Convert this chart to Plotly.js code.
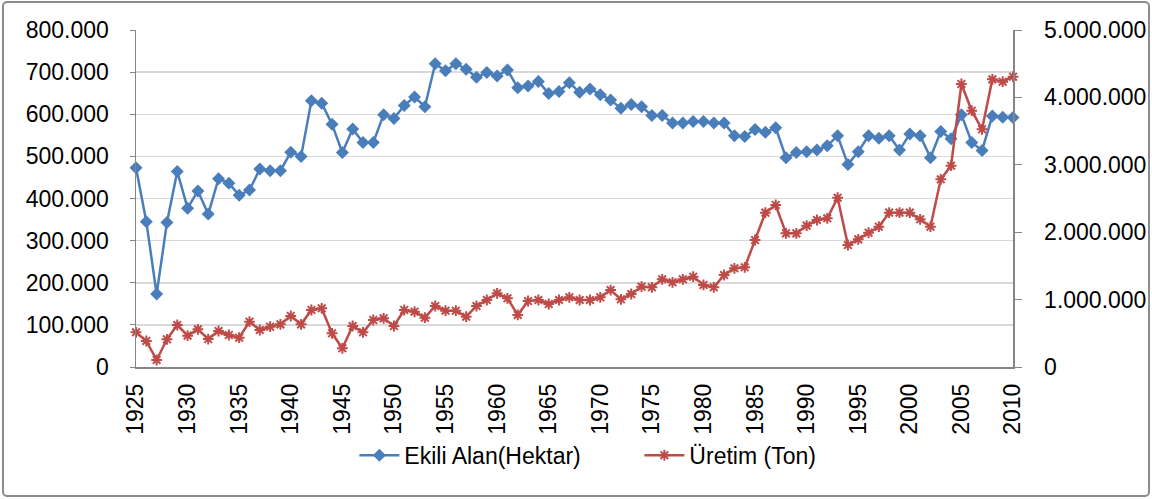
<!DOCTYPE html>
<html>
<head>
<meta charset="utf-8">
<script src="https://cdn.plot.ly/plotly-3.0.1.min.js"></script>
<style>
html,body{margin:0;padding:0;background:#fff;}
#wrap{position:relative;width:1152px;height:499px;}
#chart{position:absolute;left:0;top:0;width:1152px;height:499px;}
#frame{position:absolute;left:2px;top:1px;width:1144px;height:492px;border:2px solid #8c8c8c;border-radius:5px;pointer-events:none;}
</style>
</head>
<body>
<div id="wrap"><div id="chart"></div><div id="frame"></div></div>
<script>
const years = [];
for (let y = 1925; y <= 2010; y++) years.push(y);

const ekiliAlan = [
 473000, 345000, 173000, 343000, 464000, 377000, 418000, 363000, 447000, 436000,
 408000, 420000, 470000, 466000, 466000, 510000, 500000, 632000, 626000, 576000,
 509000, 565000, 533000, 533000, 599000, 590000, 621000, 641000, 618000, 720000,
 703000, 720000, 707000, 688000, 699000, 691000, 705000, 663000, 667000, 678000,
 649000, 654000, 675000, 652000, 660000, 646000, 634000, 614000, 623000, 618000,
 597000, 597000, 579000, 579000, 583000, 583000, 579000, 579000, 549000, 547000,
 564000, 557000, 568000, 497000, 509000, 511000, 515000, 525000, 549000, 481000,
 511000, 549000, 543000, 549000, 515000, 553000, 549000, 497000, 559000, 542000,
 599000, 533000, 514000, 596000, 593000, 592000
];

const uretim = [
 515000, 386000, 104000, 411000, 623000, 465000, 559000, 415000, 534000, 475000,
 435000, 672000, 549000, 598000, 633000, 757000, 633000, 846000, 871000, 500000,
 277000, 608000, 515000, 697000, 722000, 608000, 846000, 820000, 732000, 905000,
 835000, 835000, 746000, 905000, 994000, 1093000, 1019000, 772000, 979000, 994000,
 935000, 994000, 1034000, 994000, 994000, 1034000, 1142000, 1004000, 1083000, 1192000,
 1182000, 1301000, 1257000, 1301000, 1340000, 1217000, 1182000, 1365000, 1464000, 1479000,
 1884000, 2290000, 2404000, 1983000, 1983000, 2097000, 2181000, 2206000, 2512000, 1810000,
 1894000, 1993000, 2082000, 2290000, 2290000, 2290000, 2191000, 2082000, 2785000, 2987000,
 4199000, 3803000, 3527000, 4268000, 4233000, 4307000
];

const xTicks = [1925,1930,1935,1940,1945,1950,1955,1960,1965,1970,1975,1980,1985,1990,1995,2000,2005,2010];
const leftTicks = [0,100000,200000,300000,400000,500000,600000,700000,800000];
const rightTicks = [0,1000000,2000000,3000000,4000000,5000000];

const FONT = 'Liberation Sans, Arial, sans-serif';

const traces = [
 {
  x: years, y: ekiliAlan, name: 'Ekili Alan(Hektar)', type: 'scatter', mode: 'lines+markers',
  line: {color: '#4a7ebb', width: 2.5},
  marker: {symbol: 'diamond', size: 10, color: '#4a7ebb'},
  cliponaxis: false, yaxis: 'y'
 },
 {
  x: years, y: uretim, name: 'Üretim (Ton)', type: 'scatter', mode: 'lines+markers',
  line: {color: '#be4b48', width: 2.5},
  marker: {symbol: 'asterisk-open', size: 9, color: '#be4b48', line: {color: '#be4b48', width: 2}},
  cliponaxis: false, yaxis: 'y2'
 }
];

const layout = {
 width: 1152, height: 499,
 margin: {l: 136, r: 139, t: 30, b: 132},
 paper_bgcolor: '#ffffff', plot_bgcolor: '#ffffff',
 separators: ',.',
 font: {family: FONT, size: 23, color: '#000'},
 showlegend: true,
 legend: {orientation: 'h', x: 0.249, xanchor: 'left', y: -0.262, yanchor: 'middle',
          font: {family: FONT, size: 23, color: '#000'}, itemwidth: 40, traceorder: 'normal',
          entrywidth: 230, entrywidthmode: 'pixels'},
 xaxis: {
  range: [1925, 2010], tickmode: 'array', tickvals: xTicks, ticktext: xTicks.map(String),
  tickangle: -90, showgrid: false, zeroline: false,
  showline: true, linecolor: '#868686', linewidth: 1.5,
  ticks: '', ticklabelstandoff: 6,
  tickfont: {family: FONT, size: 23, color: '#000'}
 },
 yaxis: {
  range: [0, 800000], tickmode: 'array', tickvals: leftTicks, tickformat: ',d',
  showgrid: true, gridcolor: '#d9d9d9', gridwidth: 1.5, zeroline: false,
  showline: true, linecolor: '#868686', linewidth: 1.5,
  ticks: 'outside', ticklen: 5, tickcolor: '#868686', ticklabelstandoff: 16,
  tickfont: {family: FONT, size: 23, color: '#000'}
 },
 yaxis2: {
  range: [0, 5000000], tickmode: 'array', tickvals: rightTicks, tickformat: ',d',
  overlaying: 'y', side: 'right', showgrid: false, zeroline: false,
  showline: true, linecolor: '#868686', linewidth: 1.5,
  ticks: 'outside', ticklen: 7, tickcolor: '#868686', ticklabelstandoff: 18,
  tickfont: {family: FONT, size: 23, color: '#000'}
 }
};

Plotly.newPlot('chart', traces, layout, {displayModeBar: false, staticPlot: true});
</script>
</body>
</html>
